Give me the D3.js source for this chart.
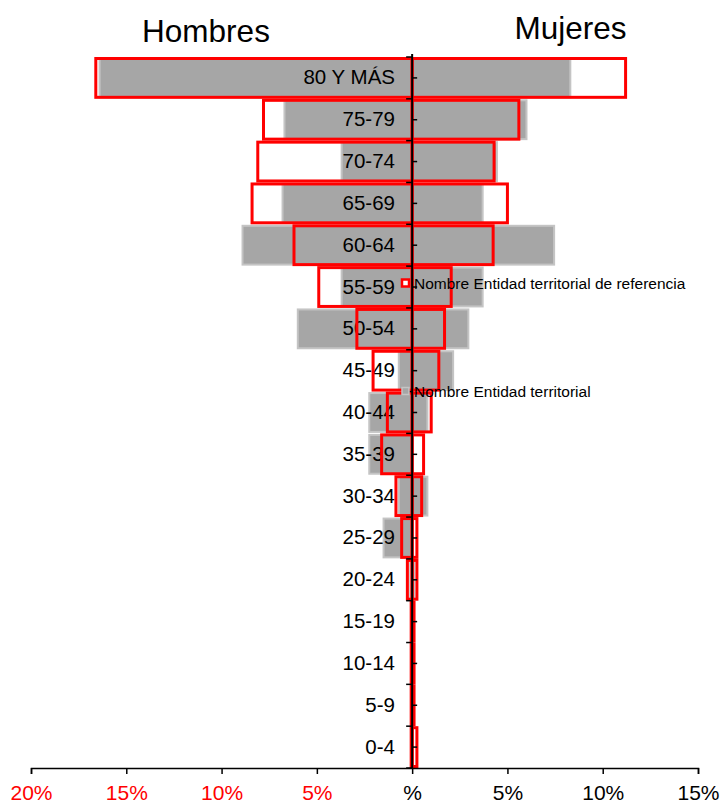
<!DOCTYPE html>
<html><head><meta charset="utf-8">
<script src="https://cdn.jsdelivr.net/npm/d3@7"></script>
<style>body{margin:0;background:#fff}svg{display:block;font-family:"Liberation Sans",Arial,sans-serif}</style>
</head><body>
<svg id="chart" width="723" height="803"></svg>
<script>
const categories = ["80 Y MÁS","75-79","70-74","65-69","60-64","55-59","50-54","45-49","40-44","35-39","30-34","25-29","20-24","15-19","10-14","5-9","0-4"];
// Entidad territorial (gray) – % hombres / mujeres
const grayMen   = [16.4, 6.7, 3.7, 6.8, 8.9, 3.7, 6.0, 0.7, 2.25, 2.25, 0.7, 1.5, 0.1, 0.0, 0.0, 0.0, 0.0];
const grayWomen = [8.3, 6.0, 4.45, 3.7, 7.45, 3.7, 2.95, 2.15, 0.8, 0.0, 0.8, 0.0, 0.1, 0.0, 0.0, 0.0, 0.0];
// Entidad territorial de referencia (red outline)
const refMen    = [16.6, 7.8, 8.1, 8.4, 6.2, 4.9, 2.9, 2.05, 1.3, 1.6, 0.85, 0.55, 0.25, 0.05, 0.05, 0.05, 0.05];
const refWomen  = [11.2, 5.6, 4.3, 5.0, 4.25, 2.05, 1.7, 1.4, 1.0, 0.6, 0.5, 0.25, 0.25, 0.1, 0.1, 0.1, 0.25];
const tickValues = [-20, -15, -10, -5, 0, 5, 10, 15];
const tickLabels = ["20%","15%","10%","5%","%","5%","10%","15%"];
const legendLabels = ["Nombre Entidad territorial de referencia","Nombre Entidad territorial"];

const svg = d3.select("#chart");
const x = d3.scaleLinear().domain([-20, 15]).range([31, 698]);
const y = d3.scaleBand().domain(categories).range([57, 768]).padding(0);
const x0 = x(0);

// gray bars
const g1 = svg.append("g");
categories.forEach((c, i) => {
  const yy = y(c) + 1.5, h = y.bandwidth() - 3;
  [[-grayMen[i], 0], [0, grayWomen[i]]].forEach(([a, b]) => {
    if (b - a <= 0) return;
    g1.append("rect").attr("x", x(a)).attr("y", yy).attr("width", x(b) - x(a)).attr("height", h)
      .attr("fill", "#a6a6a6").attr("stroke", "#c4c4c4").attr("stroke-width", 2);
  });
});

// category labels
svg.append("g").selectAll("text").data(categories).join("text")
  .attr("x", 395).attr("y", d => y(d) + y.bandwidth() / 2 + 6.5)
  .attr("text-anchor", "end").attr("font-size", 20.5).attr("fill", "#000").text(d => d);

// red outline bars
const g2 = svg.append("g");
categories.forEach((c, i) => {
  const yy = y(c) + 1.5, h = y.bandwidth() - 3;
  [[-refMen[i], 0], [0, refWomen[i]]].forEach(([a, b]) => {
    g2.append("rect").attr("x", x(a)).attr("y", yy).attr("width", Math.max(0.5, x(b) - x(a))).attr("height", h)
      .attr("fill", "none").attr("stroke", "#ff0000").attr("stroke-width", 3);
  });
});

// central axis
const axisG = svg.append("g");
axisG.append("line").attr("x1", x0).attr("x2", x0).attr("y1", 54).attr("y2", 768)
  .attr("stroke", "#000").attr("stroke-width", 2);
const bounds = categories.map(c => y(c)).concat([768]);
axisG.selectAll(".bt").data(bounds).join("line")
  .attr("x1", x0 - 6).attr("x2", x0).attr("y1", d => d).attr("y2", d => d)
  .attr("stroke", "#000").attr("stroke-width", 1.5);
axisG.selectAll(".mt").data(categories).join("line")
  .attr("x1", x0).attr("x2", x0 + 5).attr("y1", d => y(d) + y.bandwidth() / 2).attr("y2", d => y(d) + y.bandwidth() / 2)
  .attr("stroke", "#000").attr("stroke-width", 1.5);

// x axis
const xa = svg.append("g").attr("transform", "translate(0,768)")
  .call(d3.axisBottom(x).tickValues(tickValues).tickSize(6).tickFormat((d, i) => tickLabels[i]));
xa.select(".domain").attr("stroke", "#000").attr("stroke-width", 1.5);
xa.selectAll(".tick line").attr("stroke", "#000").attr("stroke-width", 1.5);
xa.selectAll(".tick text").attr("font-size", 21).attr("font-family", "Liberation Sans, Arial, sans-serif")
  .attr("y", 31.5).attr("dy", 0).attr("fill", d => d < 0 ? "#ff0000" : "#000");

// titles
svg.append("text").attr("x", 206).attr("y", 42).attr("text-anchor", "middle").attr("font-size", 31.5).text("Hombres");
svg.append("text").attr("x", 570.5).attr("y", 39).attr("text-anchor", "middle").attr("font-size", 31.5).text("Mujeres");

// legend
const leg = svg.append("g");
leg.append("rect").attr("x", 402).attr("y", 279.5).attr("width", 7).attr("height", 7)
  .attr("fill", "#fff").attr("stroke", "#ff0000").attr("stroke-width", 2.5);
leg.append("text").attr("x", 414).attr("y", 289).attr("font-size", 15.5).text(legendLabels[0]);
leg.append("rect").attr("x", 402).attr("y", 387.5).attr("width", 7).attr("height", 7)
  .attr("fill", "#a6a6a6").attr("stroke", "#c4c4c4").attr("stroke-width", 1.5);
leg.append("text").attr("x", 414).attr("y", 397).attr("font-size", 15.5).text(legendLabels[1]);
</script>
</body></html>
